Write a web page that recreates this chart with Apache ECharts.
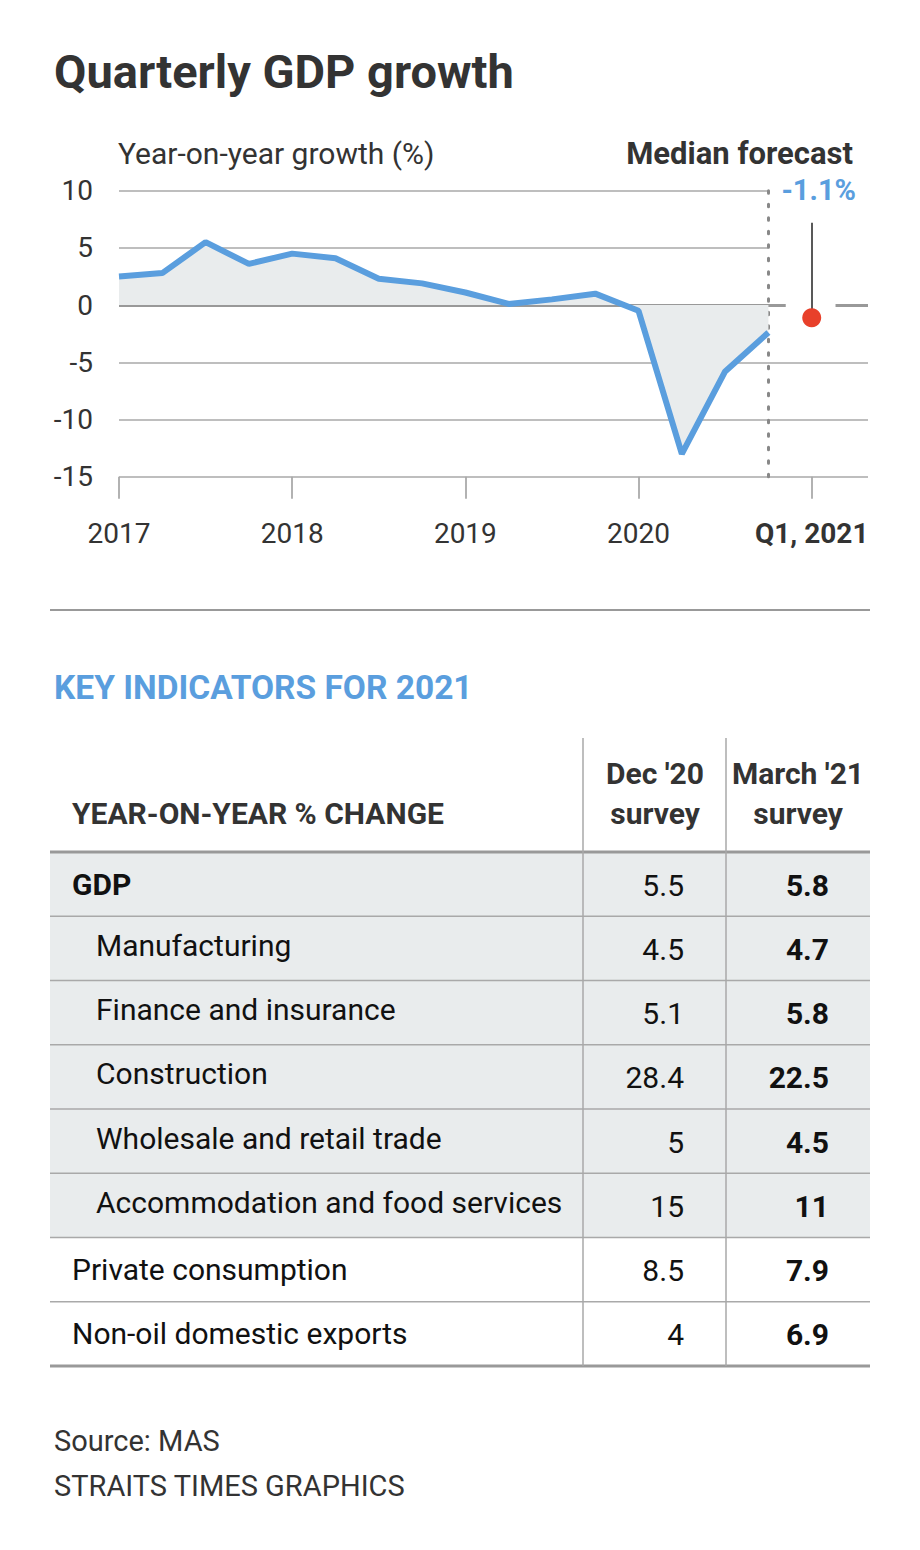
<!DOCTYPE html>
<html>
<head>
<meta charset="utf-8">
<script src="https://cdn.jsdelivr.net/npm/echarts@6/dist/echarts.min.js"></script>
<style>
html,body{margin:0;padding:0;background:#fff;}
#chart{width:920px;height:1550px;}
</style>
</head>
<body>
<div id="chart"></div>
<script>
// ---------- DATA ----------
const quarters = ['Q1 2017','Q2 2017','Q3 2017','Q4 2017','Q1 2018','Q2 2018','Q3 2018','Q4 2018',
                  'Q1 2019','Q2 2019','Q3 2019','Q4 2019','Q1 2020','Q2 2020','Q3 2020','Q4 2020'];
const gdpGrowth = [2.5, 2.8, 5.5, 3.6, 4.5, 4.1, 2.3, 1.9, 1.1, 0.1, 0.5, 1.0, -0.5, -13.0, -5.8, -2.4];
const forecastLabel = 'Q1, 2021';
const forecastValue = -1.1;
const xTickLabels = ['2017', '2018', '2019', '2020', 'Q1, 2021'];
const yTicks = [-15, -10, -5, 0, 5, 10];

const indicators = ['GDP', 'Manufacturing', 'Finance and insurance', 'Construction',
                    'Wholesale and retail trade', 'Accommodation and food services',
                    'Private consumption', 'Non-oil domestic exports'];
const indicatorLevel = [0, 1, 1, 1, 1, 1, 0, 0];
const dec20Survey = [5.5, 4.5, 5.1, 28.4, 5, 15, 8.5, 4];
const mar21Survey = [5.8, 4.7, 5.8, 22.5, 4.5, 11, 7.9, 6.9];

// ---------- STYLE ----------
const FONT = 'Roboto, "Noto Sans", sans-serif';
const DARK = '#333333';
const BLUE = '#5a9ede';
const GRID = '#a9a9a9';
const X_MAX = 17.3;

const chart = echarts.init(document.getElementById('chart'), null, {renderer: 'svg', width: 920, height: 1550});

const lineData = gdpGrowth.map((v, i) => [i, v]);
const fIdx = quarters.length; // position of forecast quarter (Q1 2021)
const lastIdx = quarters.length - 1;

// ---------- TABLE (graphic) ----------
const g = [];
const tLeft = 50, tRight = 870, col1 = 583, col2 = 726;
const rowTop = 852, rowH = 64.25;
const TF = '30px ' + FONT;
indicators.forEach((name, i) => {
  const y0 = rowTop + i * rowH;
  if (indicatorLevel[i] === 1 || i === 0) {
    g.push({type: 'rect', silent: true, shape: {x: tLeft, y: y0, width: tRight - tLeft, height: rowH},
            style: {fill: '#e9eced'}, z: 1});
  }
  const cy = y0 + rowH / 2;
  const isBold = i === 0;
  g.push({type: 'text', silent: true, z: 5, x: indicatorLevel[i] ? 96 : 72, y: cy - (indicatorLevel[i] ? 3 : 0),
          style: {text: name, font: (isBold ? 'bold ' : '') + TF, fill: '#111',
                  textAlign: 'left', textVerticalAlign: 'middle'}});
  g.push({type: 'text', silent: true, z: 5, x: 684, y: cy + 1,
          style: {text: String(dec20Survey[i]), font: TF, fill: '#111',
                  textAlign: 'right', textVerticalAlign: 'middle'}});
  g.push({type: 'text', silent: true, z: 5, x: 829, y: cy + 1,
          style: {text: String(mar21Survey[i]), font: 'bold ' + TF, fill: '#111',
                  textAlign: 'right', textVerticalAlign: 'middle'}});
  if (i > 0) {
    g.push({type: 'line', silent: true, z: 4, shape: {x1: tLeft, y1: y0, x2: tRight, y2: y0},
            style: {stroke: GRID, lineWidth: 1.5}});
  }
});
g.push({type: 'line', silent: true, z: 6, shape: {x1: tLeft, y1: rowTop, x2: tRight, y2: rowTop},
        style: {stroke: '#999', lineWidth: 3}});
const tBottom = rowTop + indicators.length * rowH;
g.push({type: 'line', silent: true, z: 6, shape: {x1: tLeft, y1: tBottom, x2: tRight, y2: tBottom},
        style: {stroke: '#999', lineWidth: 3}});
[col1, col2].forEach(x => g.push({type: 'line', silent: true, z: 6,
        shape: {x1: x, y1: 738, x2: x, y2: tBottom}, style: {stroke: GRID, lineWidth: 1.5}}));
g.push({type: 'text', silent: true, z: 5, x: 72, y: 813,
        style: {text: 'YEAR-ON-YEAR % CHANGE', font: 'bold 30px ' + FONT, fill: DARK,
                textAlign: 'left', textVerticalAlign: 'middle'}});
g.push({type: 'text', silent: true, z: 5, x: 655, y: 793,
        style: {text: "Dec '20\nsurvey", font: 'bold 30px ' + FONT, fill: DARK, lineHeight: 40,
                textAlign: 'center', textVerticalAlign: 'middle'}});
g.push({type: 'text', silent: true, z: 5, x: 798, y: 793,
        style: {text: "March '21\nsurvey", font: 'bold 30px ' + FONT, fill: DARK, lineHeight: 40,
                textAlign: 'center', textVerticalAlign: 'middle'}});
// titles & notes
g.push({type: 'text', silent: true, x: 54, y: 71,
        style: {text: 'Quarterly GDP growth', font: 'bold 47px ' + FONT, fill: DARK,
                textAlign: 'left', textVerticalAlign: 'middle'}});
g.push({type: 'text', silent: true, x: 118, y: 153,
        style: {text: 'Year-on-year growth (%)', font: '30px ' + FONT, fill: DARK,
                textAlign: 'left', textVerticalAlign: 'middle'}});
g.push({type: 'text', silent: true, x: 853, y: 153,
        style: {text: 'Median forecast', font: 'bold 31px ' + FONT, fill: DARK,
                textAlign: 'right', textVerticalAlign: 'middle'}});
g.push({type: 'line', silent: true, shape: {x1: 50, y1: 610, x2: 870, y2: 610},
        style: {stroke: '#999', lineWidth: 2}});
g.push({type: 'text', silent: true, x: 54, y: 687,
        style: {text: 'KEY INDICATORS FOR 2021', font: 'bold 33.5px ' + FONT, fill: BLUE,
                textAlign: 'left', textVerticalAlign: 'middle'}});
g.push({type: 'text', silent: true, x: 54, y: 1441,
        style: {text: 'Source: MAS', font: '29px ' + FONT, fill: DARK,
                textAlign: 'left', textVerticalAlign: 'middle'}});
g.push({type: 'text', silent: true, x: 54, y: 1486,
        style: {text: 'STRAITS TIMES GRAPHICS', font: '29px ' + FONT, fill: DARK,
                textAlign: 'left', textVerticalAlign: 'middle'}});

// gridlines: upper ones stop at the divider, lower ones run the full width
const gridSegments = yTicks.filter(v => v !== 0).map(v =>
  [{coord: [0, v]}, {coord: [v > 0 ? lastIdx : X_MAX, v]}]);

const option = {
  backgroundColor: '#fff',
  animation: false,
  grid: {left: 119, right: 52, top: 190.7, bottom: 1073.3, containLabel: false},
  xAxis: {
    type: 'value', min: 0, max: X_MAX, interval: 4,
    axisLine: {show: false, onZero: false},
    splitLine: {show: false},
    axisTick: {show: true, length: 22, customValues: [0, 4, 8, 12, 16], lineStyle: {color: '#999', width: 1.5}},
    axisLabel: {
      customValues: [0, 4, 8, 12, 16],
      margin: 43,
      fontSize: 28, fontFamily: FONT, color: DARK,
      formatter: v => {
        const t = xTickLabels[Math.round(v / 4)];
        return t === forecastLabel ? '{b|' + t + '}' : t;
      },
      rich: {b: {fontWeight: 'bold', fontSize: 28, fontFamily: FONT, color: DARK}}
    }
  },
  yAxis: {
    type: 'value', min: -15, max: 10, interval: 5,
    axisLine: {show: false}, axisTick: {show: false},
    axisLabel: {margin: 26, fontSize: 28, fontFamily: FONT, color: DARK},
    splitLine: {show: false}
  },
  graphic: g,
  series: [
    { // gridlines
      type: 'line', data: [], silent: true, z: 2,
      markLine: {
        silent: true, symbol: 'none', animation: false,
        label: {show: false},
        lineStyle: {color: GRID, width: 1.5, type: 'solid'},
        data: gridSegments
      }
    },
    { // zero line, broken around forecast stem
      type: 'line', data: [], silent: true, z: 3,
      markLine: {
        silent: true, symbol: 'none', animation: false,
        label: {show: false},
        lineStyle: {color: '#999', width: 3, type: 'solid'},
        data: [
          [{coord: [0, 0]}, {coord: [15.4, 0]}],
          [{coord: [16.55, 0]}, {coord: [X_MAX, 0]}]
        ]
      }
    },
    { // dotted divider at last actual quarter
      type: 'line', data: [], silent: true, z: 3,
      markLine: {
        silent: true, symbol: 'none', animation: false,
        label: {show: false},
        lineStyle: {color: '#888', width: 3, type: [2.5, 11], cap: 'round'},
        data: [[{coord: [lastIdx, 10]}, {coord: [lastIdx, -15]}]]
      }
    },
    {
      type: 'line', name: 'GDP growth', data: lineData,
      symbol: 'none', z: 5,
      lineStyle: {color: BLUE, width: 6},
      areaStyle: {color: '#e9eced', origin: 0, opacity: 1}
    },
    { // forecast stem
      type: 'line', data: [], silent: true, z: 8,
      markLine: {
        silent: true, symbol: 'none', animation: false,
        label: {show: false},
        lineStyle: {color: '#222', width: 1.5, type: 'solid'},
        data: [[{coord: [fIdx, forecastValue]}, {coord: [fIdx, 7.2]}]]
      }
    },
    {
      type: 'scatter', name: 'Median forecast', data: [[fIdx, forecastValue]],
      symbolSize: 19, z: 10,
      itemStyle: {color: '#e8402a', opacity: 1},
      label: {
        show: true, position: 'top', distance: 0,
        offset: [7, -104],
        formatter: p => p.value[1].toFixed(1) + '%',
        fontSize: 29, fontWeight: 'bold', fontFamily: FONT, color: BLUE,
        textBorderWidth: 0, opacity: 1
      }
    }
  ]
};
chart.setOption(option);
</script>
</body>
</html>
